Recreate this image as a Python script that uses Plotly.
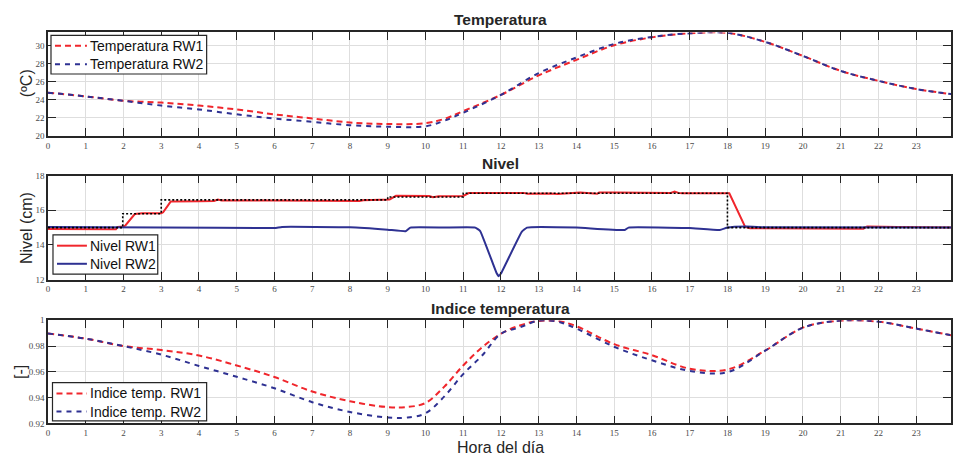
import plotly.graph_objects as go

# ---------------- data ----------------
hours_ticks = list(range(0, 25))

temp_hours = [0, 1, 2, 3, 4, 5, 6, 7, 8, 9, 10, 10.5, 11, 12, 13, 14, 15, 16, 17, 18, 19, 20, 21, 22, 23, 24]
temp_rw1 = [24.8, 24.38, 23.9, 23.7, 23.37, 22.94, 22.4, 21.95, 21.5, 21.33, 21.43, 21.9, 22.76, 24.55, 26.7,
            28.42, 30.03, 30.9, 31.35, 31.4, 30.4, 28.85, 27.2, 26.1, 25.2, 24.6]
temp_rw2 = [24.8, 24.38, 23.9, 23.37, 22.94, 22.4, 21.94, 21.58, 21.2, 21.04, 21.08, 21.7, 22.58, 24.55, 26.96,
            28.68, 30.18, 30.95, 31.35, 31.4, 30.4, 28.85, 27.2, 26.1, 25.2, 24.6]

nivel_ref_t = [0, 1.98, 1.98, 3.0, 3.0, 9.0, 9.0, 11.0, 11.0, 18.0, 18.0, 24]
nivel_ref = [15.0, 15.0, 15.8, 15.8, 16.6, 16.6, 16.76, 16.76, 16.98, 16.98, 15.0, 15.0]

nivel_rw1_t = [0, 1.0, 1.8, 1.85, 2.0, 2.05, 2.3, 2.5, 3.0, 3.05, 3.25, 4.0, 4.4, 4.5, 4.6, 6.0, 8.25, 8.35,
               9.0, 9.05, 9.22, 10.1, 10.2, 10.35, 11.0, 11.05, 11.15, 12.6, 12.7, 13.3, 13.5, 14.0, 14.1, 14.55,
               14.6, 15.0, 16.5, 16.6, 16.7, 16.8, 18.05, 18.47, 18.6, 21.6, 21.7, 22.5, 24.0]
nivel_rw1 = [14.92, 14.92, 14.91, 15.04, 15.06, 15.12, 15.78, 15.82, 15.82, 15.88, 16.5, 16.52, 16.53, 16.62,
             16.56, 16.56, 16.53, 16.58, 16.58, 16.62, 16.83, 16.82, 16.75, 16.8, 16.82, 16.88, 16.99, 17.0, 16.95,
             16.97, 16.94, 17.01, 17.02, 16.95, 17.02, 17.02, 17.0, 17.08, 17.0, 16.98, 16.98, 15.04, 14.96, 14.94,
             15.06, 15.03, 15.0]

nivel_rw2_t = [0, 3.0, 6.0, 6.2, 8.0, 9.0, 9.47, 9.6, 10.5, 11.32, 11.45, 11.88, 11.94, 12.0, 12.55, 12.69,
               14.0, 15.28, 15.38, 17.0, 17.8, 18.0, 18.5, 19.0, 24.0]
nivel_rw2 = [15.03, 15.01, 14.98, 15.04, 15.02, 14.88, 14.79, 15.0, 15.0, 15.0, 14.8, 12.4, 12.2, 12.35, 14.75,
             15.0, 15.0, 14.86, 15.0, 14.97, 14.86, 15.0, 15.06, 15.02, 15.0]

idx_hours = [0, 1, 2, 3, 4, 5, 6, 7, 8, 9, 9.5, 10, 10.5, 11, 11.5, 12, 12.5, 13, 13.5, 14, 15, 16, 17, 18, 19,
             20, 21, 22, 23, 24]
idx_rw1 = [0.9898, 0.9858, 0.980, 0.977, 0.9727, 0.965, 0.956, 0.9448, 0.9372, 0.9327, 0.9327, 0.9359, 0.9486,
           0.965, 0.979, 0.9896, 0.996, 0.9995, 0.9995, 0.9954, 0.9815, 0.973, 0.9625, 0.9618, 0.9765, 0.9943,
           0.9998, 0.999, 0.9936, 0.988]
idx_rw2 = [0.9898, 0.9858, 0.980, 0.9734, 0.9646, 0.9562, 0.9473, 0.9365, 0.9289, 0.9246, 0.9245, 0.9279, 0.941,
           0.9583, 0.9727, 0.9896, 0.9945, 0.9998, 0.999, 0.9936, 0.9795, 0.969, 0.9608, 0.9598, 0.9765, 0.9943,
           0.9998, 0.999, 0.9936, 0.988]

temp_ticks = [20, 22, 24, 26, 28, 30]
nivel_ticks = [12, 14, 16, 18]
idx_ticks = [0.92, 0.94, 0.96, 0.98, 1.0]
idx_ticktext = ["0.92", "0.94", "0.96", "0.98", "1"]

legend1_labels = ["Temperatura RW1", "Temperatura RW2"]
legend2_labels = ["Nivel RW1", "Nivel RW2"]
legend3_labels = ["Indice temp. RW1", "Indice temp. RW2"]

# ---------------- style ----------------
W, H = 953, 463
ML = 48
RED = "#f0262c"
BLUE = "#2e3192"
AXC = "#262626"
GRID = "#dedede"
TICKFONT = dict(family="Liberation Serif", size=9, color="#4a4a4a")
SANS = "Liberation Sans, Arial, Helvetica"
DASH_R = "6px,4px"
DASH_B = "5px,5px"


def py(px):
    return 1 - px / H


def pxx(px):
    return (px - ML) / (W - ML)


fig = go.Figure()

# Temperature
fig.add_trace(go.Scatter(x=temp_hours, y=temp_rw1, mode="lines", name=legend1_labels[0],
                         line=dict(color=RED, width=2, dash=DASH_R, shape="spline"),
                         xaxis="x", yaxis="y"))
fig.add_trace(go.Scatter(x=temp_hours, y=temp_rw2, mode="lines", name=legend1_labels[1],
                         line=dict(color=BLUE, width=2, dash=DASH_B, shape="spline"),
                         xaxis="x", yaxis="y"))

# Nivel
fig.add_trace(go.Scatter(x=nivel_rw1_t, y=nivel_rw1, mode="lines", name=legend2_labels[0],
                         line=dict(color=RED, width=2),
                         xaxis="x2", yaxis="y2"))
fig.add_trace(go.Scatter(x=nivel_rw2_t, y=nivel_rw2, mode="lines", name=legend2_labels[1],
                         line=dict(color=BLUE, width=2, shape="spline", smoothing=0.3),
                         xaxis="x2", yaxis="y2"))
fig.add_trace(go.Scatter(x=nivel_ref_t, y=nivel_ref, mode="lines", name="Referencia",
                         line=dict(color="black", width=1.6, dash="2px,2px"),
                         xaxis="x2", yaxis="y2"))

# Indice
fig.add_trace(go.Scatter(x=idx_hours, y=idx_rw1, mode="lines", name=legend3_labels[0],
                         line=dict(color=RED, width=2, dash=DASH_R, shape="spline"),
                         xaxis="x3", yaxis="y3"))
fig.add_trace(go.Scatter(x=idx_hours, y=idx_rw2, mode="lines", name=legend3_labels[1],
                         line=dict(color=BLUE, width=2, dash=DASH_B, shape="spline"),
                         xaxis="x3", yaxis="y3"))

xmax = (W - ML) / 37.83


def xax(anchor):
    return dict(domain=[0, 1], range=[0, xmax], anchor=anchor, tickvals=hours_ticks,
                showgrid=True, gridcolor=GRID, gridwidth=1, zeroline=False,
                showline=True, linecolor=AXC, linewidth=1.5, mirror="ticks",
                ticks="inside", ticklen=8, tickwidth=1.2, tickcolor=AXC, tickfont=TICKFONT)


def yax(anchor, dom, rng, tv, tt=None):
    d = dict(domain=dom, range=rng, anchor=anchor, tickvals=tv,
             showgrid=True, gridcolor=GRID, gridwidth=1, zeroline=False,
             showline=True, linecolor=AXC, linewidth=1.5, mirror="ticks",
             ticks="inside", ticklen=8, tickwidth=1.2, tickcolor=AXC, tickfont=TICKFONT)
    if tt is not None:
        d["ticktext"] = tt
    return d


fig.update_layout(
    width=W, height=H,
    margin=dict(l=ML, r=0, t=0, b=0),
    paper_bgcolor="white", plot_bgcolor="white",
    xaxis=xax("y"), yaxis=yax("x", [py(134), py(28)], [20, 31.45], temp_ticks),
    xaxis2=xax("y2"), yaxis2=yax("x2", [py(280.7), py(174.3)], [12, 18], nivel_ticks),
    xaxis3=xax("y3"), yaxis3=yax("x3", [py(427.7), py(322.3)], [0.92, 1.0], idx_ticks, idx_ticktext),
    showlegend=False,
)

ann = [
    dict(text="<b>Temperatura</b>", x=pxx(502), y=py(15), size=15.5, angle=0),
    dict(text="<b>Nivel</b>", x=pxx(502), y=py(162), size=15.5, angle=0),
    dict(text="<b>Indice temperatura</b>", x=pxx(502), y=py(310), size=15.5, angle=0),
    dict(text="Hora del día", x=pxx(502), y=py(452), size=16, angle=0),
    dict(text="(ºC)", x=pxx(26), y=py(80), size=16, angle=-90),
    dict(text="Nivel (cm)", x=pxx(26), y=py(228), size=16, angle=-90),
    dict(text="[-]", x=pxx(21), y=py(375), size=16, angle=-90),
]
for a in ann:
    fig.add_annotation(text=a["text"], x=a["x"], y=a["y"], xref="paper", yref="paper",
                       xanchor="center", yanchor="middle", showarrow=False, textangle=a["angle"],
                       font=dict(family=SANS, size=a["size"], color="#262626"))


# ---- legends drawn as boxes (MATLAB style) ----
def add_legend(box, rows, labels, styles):
    x0, y0, x1, y1 = box
    fig.add_shape(type="rect", xref="paper", yref="paper",
                  x0=pxx(x0), x1=pxx(x1), y0=py(y1), y1=py(y0),
                  line=dict(color=AXC, width=1.2), fillcolor="white", layer="above")
    for ry, lab, (col, dash) in zip(rows, labels, styles):
        fig.add_shape(type="line", xref="paper", yref="paper",
                      x0=pxx(x0 + 4), x1=pxx(87), y0=py(ry), y1=py(ry),
                      line=dict(color=col, width=2, dash=dash), layer="above")
        fig.add_annotation(text=lab, x=pxx(88), y=py(ry), xref="paper", yref="paper",
                           xanchor="left", yanchor="middle", showarrow=False,
                           font=dict(family=SANS, size=14, color="#111"))


add_legend((51, 31, 207, 70.5), [41.7, 60.5], legend1_labels, [(RED, DASH_R), (BLUE, DASH_B)])
add_legend((53, 235, 158, 275), [246, 264.5], legend2_labels, [(RED, "solid"), (BLUE, "solid")])
add_legend((52.5, 386, 207, 425), [397, 415.5], legend3_labels, [(RED, DASH_R), (BLUE, DASH_B)])

fig.write_html("out.html")
